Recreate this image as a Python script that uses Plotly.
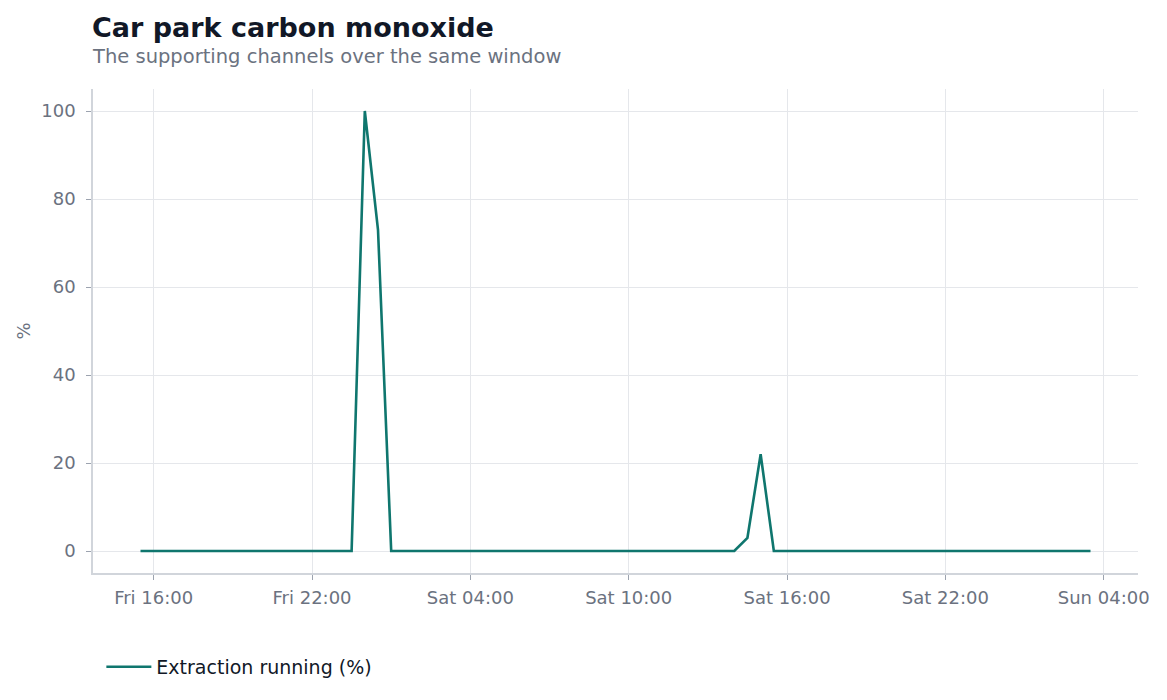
import pandas as pd
import plotly.graph_objects as go

# 30-minute samples from Fri 15:30 to Sun 03:30
start = "2024-03-01 15:30"
n_points = 73
times = pd.date_range(start=start, periods=n_points, freq="30min")

# non-zero readings (everything else is 0)
spike_times = ["2024-03-02 00:00", "2024-03-02 00:30", "2024-03-02 14:30", "2024-03-02 15:00"]
spike_values = [100, 73, 3, 22]

extraction = [0.0] * n_points
for t, v in zip(spike_times, spike_values):
    extraction[list(times).index(pd.Timestamp(t))] = v

tick_vals = pd.date_range("2024-03-01 16:00", "2024-03-03 04:00", freq="6h")
tick_text = [t.strftime("%a %H:%M") for t in tick_vals]

span = times[-1] - times[0]
x_range = [times[0] - span * 0.05, times[-1] + span * 0.05]

fig = go.Figure()
fig.add_trace(go.Scatter(
    x=times, y=extraction, mode="lines", name="Extraction running (%)",
    line=dict(color="#0f766e", width=2.6),
))

font_family = "DejaVu Sans"
fig.update_layout(
    width=1167, height=700,
    paper_bgcolor="white", plot_bgcolor="white",
    font=dict(family=font_family, color="#6b7280", size=18),
    margin=dict(l=85, r=37, t=81, b=135),
    legend=dict(orientation="h", x=0.008, xanchor="left", y=-0.194, yanchor="middle",
                itemwidth=45,
                font=dict(size=19, color="#111827")),
    showlegend=True,
    annotations=[
        dict(text="<b>Car park carbon monoxide</b>", xref="paper", yref="paper",
             x=0, y=1.128, xanchor="left", yanchor="middle", showarrow=False, xshift=-3,
             font=dict(size=27, color="#111827", family=font_family)),
        dict(text="The supporting channels over the same window", xref="paper", yref="paper",
             x=0, y=1.068, xanchor="left", yanchor="middle", showarrow=False, xshift=-3,
             font=dict(size=19.5, color="#6b7280", family=font_family)),
    ],
)
fig.update_xaxes(
    range=x_range, tickvals=tick_vals, ticktext=tick_text,
    showgrid=True, gridcolor="#e5e7eb", gridwidth=1,
    showline=True, linecolor="#d1d5db", linewidth=1.5,
    ticks="outside", ticklen=5, tickcolor="#9ca3af",
    ticklabelstandoff=3,
    zeroline=False,
)
fig.update_yaxes(
    range=[-5, 105], tickvals=[0, 20, 40, 60, 80, 100],
    title=dict(text="%", font=dict(size=18, color="#6b7280"), standoff=6),
    showgrid=True, gridcolor="#e5e7eb", gridwidth=1,
    showline=True, linecolor="#d1d5db", linewidth=1.5,
    ticks="outside", ticklen=5, tickcolor="#9ca3af",
    ticklabelstandoff=7,
    zeroline=False,
)

fig.write_html("out.html")
